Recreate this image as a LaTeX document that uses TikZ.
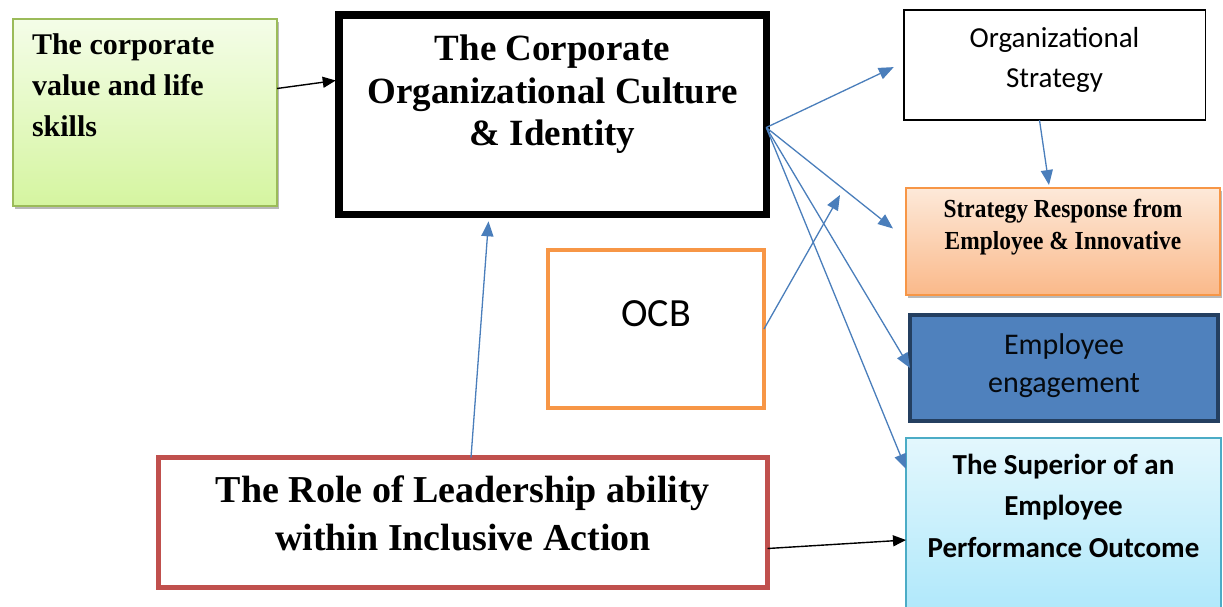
\documentclass[tikz,border=0pt]{standalone}
\usepackage{fontspec}
\setmainfont{Liberation Serif}
\newfontfamily\calibri{Carlito}
\newfontfamily\narrowserif[FakeStretch=0.9]{Liberation Serif}
\usetikzlibrary{arrows.meta,shadows}

\definecolor{arrowblue}{HTML}{4A7EBB}
\definecolor{greenborder}{HTML}{9BBB59}
\definecolor{greentop}{HTML}{F4FDE8}
\definecolor{greenbot}{HTML}{D5F5A0}
\definecolor{orangeborder}{HTML}{F79646}
\definecolor{orangetop}{HTML}{FDE9D9}
\definecolor{orangebot}{HTML}{FAB98A}
\definecolor{navyborder}{HTML}{243F60}
\definecolor{steelblue}{HTML}{4F81BD}
\definecolor{cyanborder}{HTML}{4BACC6}
\definecolor{cyantop}{HTML}{E3F7FD}
\definecolor{cyanbot}{HTML}{A8E6FA}
\definecolor{redborder}{HTML}{C0504D}

% box body: width, height, top padding, contents
\newcommand\boxbody[4]{\begin{minipage}[c][#2][t]{#1}\vspace*{#3}#4\end{minipage}}
\newcommand\fs[2]{\fontsize{#1}{#2}\selectfont}

\tikzset{
  box/.style={rectangle, inner sep=0pt, outer sep=0pt},
  softshadow/.style={drop shadow={shadow xshift=2pt, shadow yshift=-3pt, fill=black!50, opacity=.55}},
  flow/.style={draw=arrowblue, line width=1.3pt, -{Triangle[length=15pt,width=12pt]}},
  link/.style={draw=black, line width=1.4pt, -{Triangle[length=13pt,width=11pt]}},
}

\begin{document}
\begin{tikzpicture}[x=1pt,y=-1pt]
\clip (0,0) rectangle (1223,606);

% left input box
\node[box, draw=greenborder, line width=2pt, top color=greentop, bottom color=greenbot, softshadow]
  (values) at (145,112.5)
  {\boxbody{264pt}{187pt}{7pt}{\fs{30}{41}\bfseries\raggedright\leftskip=19pt
   \strut The corporate\\value and life\\skills}};

% central culture box
\node[box, draw=black, line width=7.5pt, fill=white]
  (culture) at (552.5,114.5)
  {\boxbody{427.5pt}{199.5pt}{16pt}{\fs{37}{42.5}\bfseries\centering
   \strut The Corporate\\Organizational Culture\\\& Identity}};

% right column
\node[box, draw=black, line width=1.5pt, fill=white]
  (strategy) at (1054.5,65.1)
  {\boxbody{301.5pt}{110.25pt}{10pt}{\calibri\fs{29}{40}\centering
   \strut Organizational\\Strategy}};

\node[box, draw=orangeborder, line width=2pt, top color=orangetop, bottom color=orangebot, softshadow]
  (response) at (1063,241.5)
  {\boxbody{314pt}{107pt}{7.5pt}{\narrowserif\fs{26}{32}\bfseries\centering
   \strut Strategy Response from\\Employee \& Innovative}};

\node[box, draw=navyborder, line width=4pt, fill=steelblue]
  (engagement) at (1064,368)
  {\boxbody{308pt}{106pt}{13pt}{\calibri\fs{30}{38}\color{black!85!navyborder}\centering
   \strut Employee\\engagement}};

\node[box, draw=cyanborder, line width=2pt, top color=cyantop, bottom color=cyanbot]
  (superior) at (1063.5,538)
  {\boxbody{315pt}{200pt}{7pt}{\calibri\fs{29}{41.5}\bfseries\centering
   \strut The Superior of an\\Employee\\Performance Outcome}};

% middle boxes
\node[box, draw=orangeborder, line width=4pt, fill=white]
  (ocb) at (656,329)
  {\boxbody{216pt}{158pt}{43pt}{\calibri\fs{40}{48}\centering\strut OCB}};

\node[box, draw=redborder, line width=5pt, fill=white]
  (leader) at (463,522.5)
  {\boxbody{609pt}{130pt}{11pt}{\fs{38}{48}\bfseries\centering
   \strut The Role of Leadership ability\\within Inclusive Action}};

% connectors
\coordinate (hub) at ([yshift=-13pt]culture.east);
\coordinate (ocbtip) at (840,195);

\draw[link] ([yshift=24pt]values.east) -- ([xshift=-3pt,yshift=34pt]culture.west);
\draw[flow] (hub) -- ([xshift=-10pt,yshift=-2pt]strategy.west);
\draw[flow] (hub) -- ([xshift=-13pt,yshift=13pt]response.west);
\draw[flow] (hub) -- (engagement.west);
\draw[flow] (hub) -- ([yshift=-31pt]superior.north west);
\draw[flow] (ocb.east) -- (ocbtip);
\draw[flow] ([xshift=-15pt]strategy.south) -- ([xshift=-14pt,yshift=3pt]response.north);
\draw[flow] ([xshift=8pt]leader.north) -- ([xshift=-64pt,yshift=-7pt]culture.south);
\draw[link] ([yshift=-26pt]leader.east) -- ([yshift=-102pt]superior.north west);
\end{tikzpicture}
\end{document}
